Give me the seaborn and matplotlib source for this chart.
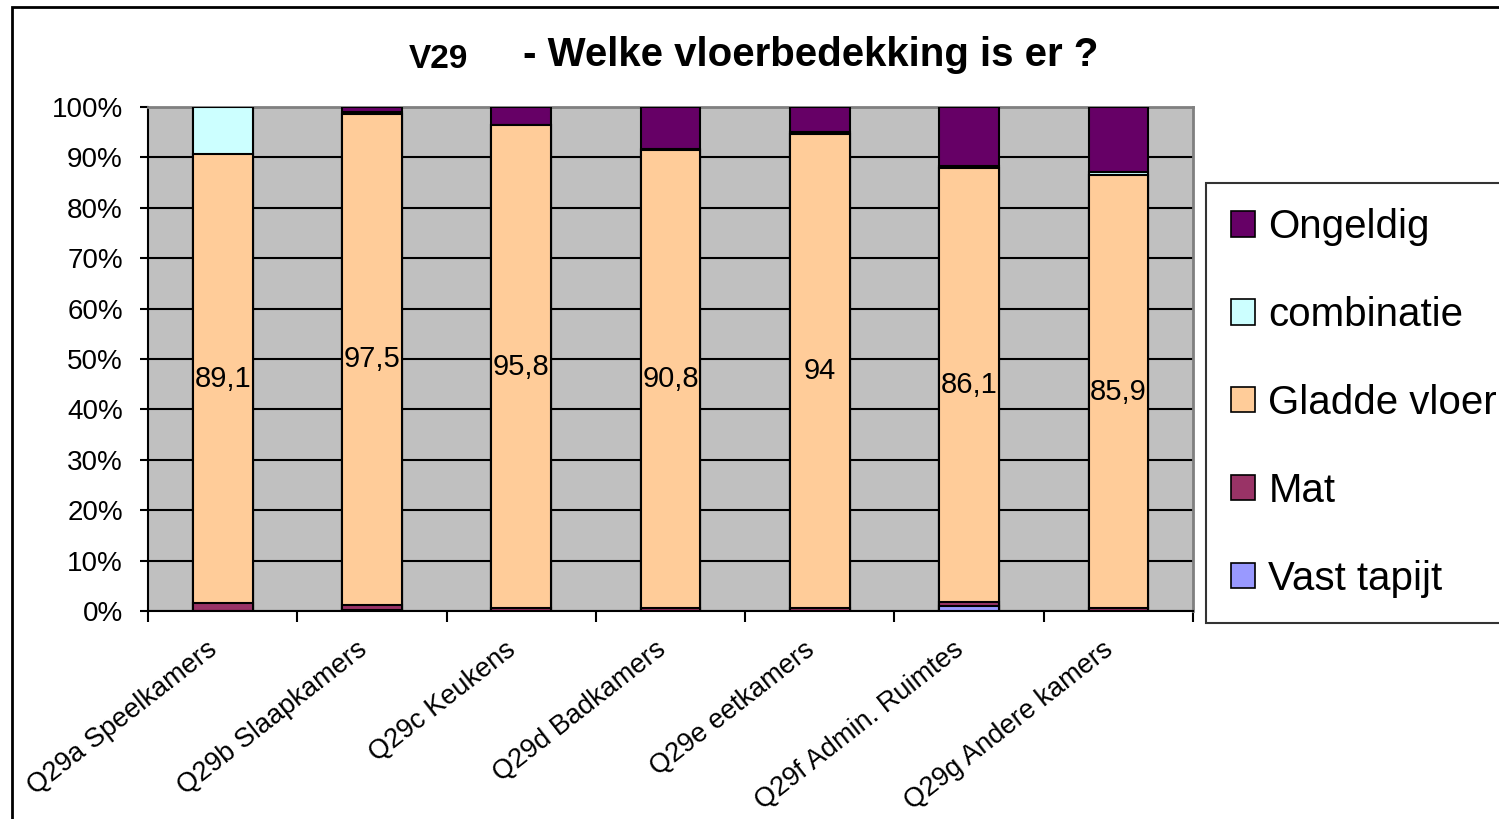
import numpy as np
import matplotlib
matplotlib.use("Agg")
import matplotlib.pyplot as plt
from matplotlib.patches import Patch, Rectangle
from matplotlib.ticker import FixedLocator
import seaborn as sns

# ---- data (percent per room type) ----
rooms = ["Q29a Speelkamers", "Q29b Slaapkamers", "Q29c Keukens", "Q29d Badkamers",
         "Q29e eetkamers", "Q29f Admin. Ruimtes", "Q29g Andere kamers"]
vast_tapijt = [0.0, 0.2, 0.0, 0.0, 0.0, 0.9, 0.0]
mat = [1.5, 1.0, 0.6, 0.6, 0.6, 0.9, 0.6]
gladde_vloer = [89.1, 97.5, 95.8, 90.8, 94.0, 86.1, 85.9]
combinatie = [9.4, 0.3, 0.0, 0.3, 0.4, 0.4, 0.6]
ongeldig = [0.0, 1.0, 3.6, 8.3, 5.0, 11.7, 12.9]
gladde_labels = ["89,1", "97,5", "95,8", "90,8", "94", "86,1", "85,9"]

series = ["Vast tapijt", "Mat", "Gladde vloer", "combinatie", "Ongeldig"]
colors = {"Vast tapijt": "#9999FF", "Mat": "#993366", "Gladde vloer": "#FFCC99",
          "combinatie": "#CCFFFF", "Ongeldig": "#660066"}

sns.set_theme(style="white")
plt.rcParams["font.family"] = ["Liberation Sans", "DejaVu Sans"]
plt.rcParams["text.color"] = "black"
plt.rcParams["xtick.color"] = "black"
plt.rcParams["ytick.color"] = "black"

fig = plt.figure(figsize=(14.99, 8.19), dpi=100)
ax = fig.add_axes([148 / 1499, 1 - 611 / 819, (1193 - 148) / 1499, (611 - 107) / 819])
ax.set_facecolor("#C0C0C0")

# stacked bars: draw cumulative totals from the top segment down
stack = np.array([vast_tapijt, mat, gladde_vloer, combinatie, ongeldig])
cum = np.cumsum(stack, axis=0)
for i in range(len(series) - 1, -1, -1):
    sns.barplot(x=rooms, y=cum[i], color=colors[series[i]], saturation=1,
                edgecolor="black", linewidth=1.5, width=0.4, ax=ax, zorder=3)

# value labels in the middle of the "Gladde vloer" segment
for k, lab in enumerate(gladde_labels):
    mid = cum[1][k] + gladde_vloer[k] / 2
    ax.text(k, mid, lab, ha="center", va="center", fontsize=21, zorder=5)

ax.set_ylim(0, 100)
ax.set_xlim(-0.5, len(rooms) - 0.5)
ax.set_yticks(np.arange(0, 101, 10))
ax.set_yticklabels([f"{v}%" for v in range(0, 101, 10)], fontsize=20)
ax.yaxis.grid(True, color="black", linewidth=1.5, zorder=1)
ax.set_axisbelow(True)
ax.tick_params(axis="y", left=True, length=6, width=1.5, color="black", pad=12)

ax.set_xticks(range(len(rooms)))
ax.set_xticklabels(rooms, rotation=38, ha="right", va="bottom",
                   rotation_mode="anchor", fontsize=19.5)
ax.xaxis.set_minor_locator(FixedLocator(np.arange(-0.5, len(rooms), 1)))
ax.tick_params(axis="x", which="major", length=0, pad=33)
ax.tick_params(axis="x", which="minor", bottom=True, length=8, width=1.5, color="black")
ax.set_xlabel("")
ax.set_ylabel("")

for side in ["left", "bottom"]:
    ax.spines[side].set_color("black")
    ax.spines[side].set_linewidth(1.5)
for side in ["top", "right"]:
    ax.spines[side].set_color("#808080")
    ax.spines[side].set_linewidth(2)

# title
fig.text(438 / 1499, 1 - 60 / 819, "V29", ha="center", va="center",
         fontsize=24, fontweight="bold")
fig.text(811 / 1499, 1 - 55 / 819, "- Welke vloerbedekking is er ?", ha="center",
         va="center", fontsize=29, fontweight="bold")

# legend (top entry first)
handles = [Patch(facecolor=colors[s], edgecolor="black", linewidth=1.2)
           for s in series[::-1]]
leg = fig.legend(handles, series[::-1], loc="upper left",
                 bbox_to_anchor=(1206 / 1499, 1 - 183 / 819), fontsize=29,
                 frameon=True, fancybox=False, edgecolor="black",
                 handlelength=0.6, handleheight=0.6, handletextpad=0.33,
                 labelspacing=1.24, borderpad=0.62, borderaxespad=0)
leg.get_frame().set_linewidth(1.5)

# outer chart border
fig.patches.append(Rectangle((12 / 1499, -0.05), 1.2, 1 - 7 / 819 + 0.05,
                             transform=fig.transFigure, fill=False,
                             edgecolor="black", linewidth=2))

fig.savefig("out.png", dpi=100, facecolor="white")
